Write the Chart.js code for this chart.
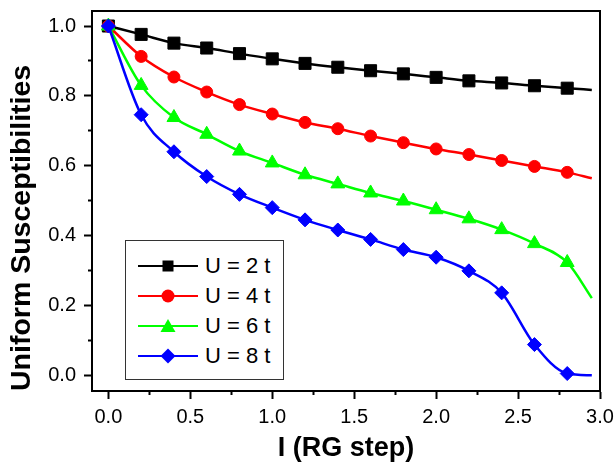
<!DOCTYPE html>
<html><head><meta charset="utf-8">
<script src="https://cdn.jsdelivr.net/npm/chart.js@4.4.1/dist/chart.umd.min.js"></script>
<style>
html,body{margin:0;padding:0;background:#fff;}
#wrap{position:relative;width:616px;height:462px;}
#legend{position:absolute;left:125px;top:240px;width:159px;height:140px;border:1.5px solid #333;box-sizing:border-box;background:#fff;padding-top:10px;font-family:"Liberation Sans",Arial,sans-serif;font-size:22px;color:#000;}
.row{height:30px;display:flex;align-items:center;}
.row svg{margin-left:12px;flex:none;}
.row span{margin-left:7px;white-space:pre;}
</style></head><body>
<div id="wrap"><canvas id="c" width="616" height="462"></canvas><div id="legend"></div></div>
<script>
// ---- data ----
const steps = [0, 0.2, 0.4, 0.6, 0.8, 1.0, 1.2, 1.4, 1.6, 1.8, 2.0, 2.2, 2.4, 2.6, 2.8, 2.95];
const seriesLabels = ['U = 2 t', 'U = 4 t', 'U = 6 t', 'U = 8 t'];
const u2 = [1.000, 0.976, 0.951, 0.937, 0.921, 0.906, 0.893, 0.882, 0.872, 0.863, 0.853, 0.843, 0.837, 0.829, 0.822, 0.817];
const u4 = [1.000, 0.913, 0.854, 0.811, 0.775, 0.748, 0.724, 0.706, 0.685, 0.666, 0.648, 0.632, 0.615, 0.598, 0.581, 0.564];
const u6 = [1.000, 0.830, 0.738, 0.690, 0.642, 0.608, 0.574, 0.548, 0.522, 0.499, 0.474, 0.448, 0.417, 0.377, 0.323, 0.221];
const u8 = [1.000, 0.746, 0.640, 0.569, 0.518, 0.480, 0.445, 0.416, 0.389, 0.360, 0.338, 0.299, 0.236, 0.088, 0.005, 0.000];
const xMajorTicks = [0, 0.5, 1.0, 1.5, 2.0, 2.5, 3.0];
const xMinorTicks = [0.25, 0.75, 1.25, 1.75, 2.25, 2.75];
const yMajorTicks = [0, 0.2, 0.4, 0.6, 0.8, 1.0];
const yMinorTicks = [0.1, 0.3, 0.5, 0.7, 0.9];
const xTitle = 'I (RG step)';
const yTitle = 'Uniform Susceptibilities';

// ---- styles ----
const FONT = '"Liberation Sans", Arial, sans-serif';
const colors = ['#000000', '#ff0000', '#00ff00', '#0000ff'];
const shapes = ['rect', 'circle', 'triangle', 'rectRot'];
const radii = [8.5, 6, 8, 7];
const values = [u2, u4, u6, u8];

const datasets = values.map((vals, k) => ({
  label: seriesLabels[k],
  data: steps.map((s, i) => ({x: s, y: vals[i]})),
  borderColor: colors[k],
  backgroundColor: colors[k],
  borderWidth: 2.5,
  pointStyle: shapes[k],
  pointRadius: steps.map((s, i) => i === steps.length - 1 ? 0 : radii[k]),
  pointBorderWidth: 1,
  pointBorderColor: colors[k],
  pointBackgroundColor: colors[k],
  cubicInterpolationMode: 'monotone',
  fill: false
})).reverse();

const framePlugin = {
  id: 'frame',
  afterDraw(chart) {
    const {ctx, chartArea: a} = chart;
    ctx.save();
    ctx.strokeStyle = '#000';
    ctx.lineWidth = 2;
    ctx.strokeRect(a.left, a.top, a.right - a.left, a.bottom - a.top);
    ctx.restore();
  }
};

const setTicks = arr => s => { s.ticks = arr.map(v => ({value: v})); };
const fitV = w => s => { s.width = w; s.paddingTop = 0; s.paddingBottom = 0; };
const fitH = h => s => { s.height = h; s.paddingLeft = 0; s.paddingRight = 0; };

new Chart(document.getElementById('c'), {
  type: 'line',
  data: {datasets},
  plugins: [framePlugin],
  options: {
    responsive: false,
    animation: false,
    layout: {padding: {left: 0, top: 11, right: 16, bottom: 0}},
    plugins: {legend: {display: false}, tooltip: {enabled: false}},
    scales: {
      x: {
        type: 'linear', position: 'bottom', min: -0.1, max: 3.0, weight: 10,
        afterBuildTicks: setTicks(xMajorTicks),
        afterFit: fitH(71),
        ticks: {callback: v => Number(v).toFixed(1), font: {family: FONT, size: 20, lineHeight: 1}, color: '#000', padding: 8, maxRotation: 0, autoSkip: false},
        grid: {drawOnChartArea: false, tickLength: 8, tickWidth: 2, tickColor: '#000'},
        border: {display: true, color: '#000', width: 2},
        title: {display: true, text: xTitle, color: '#000', font: {family: FONT, size: 27, weight: 'bold', lineHeight: 1}, padding: {top: 0, bottom: 0}}
      },
      xMinor: {
        type: 'linear', position: 'bottom', min: -0.1, max: 3.0, weight: 0,
        afterBuildTicks: setTicks(xMinorTicks),
        afterFit: fitH(0),
        ticks: {display: false},
        grid: {drawOnChartArea: false, tickLength: 4, tickWidth: 2, tickColor: '#000'},
        border: {display: false}
      },
      y: {
        type: 'linear', position: 'left', min: -0.045, max: 1.043, weight: 10,
        afterBuildTicks: setTicks(yMajorTicks),
        afterFit: fitV(92),
        ticks: {callback: v => Number(v).toFixed(1), font: {family: FONT, size: 20, lineHeight: 1}, color: '#000', padding: 8, autoSkip: false},
        grid: {drawOnChartArea: false, tickLength: 8, tickWidth: 2, tickColor: '#000'},
        border: {display: true, color: '#000', width: 2},
        title: {display: true, text: yTitle, align: 'start', color: '#000', font: {family: FONT, size: 28.5, weight: 'bold', lineHeight: 1}, padding: {top: 8, bottom: 0}}
      },
      yMinor: {
        type: 'linear', position: 'left', min: -0.045, max: 1.043, weight: 0,
        afterBuildTicks: setTicks(yMinorTicks),
        afterFit: fitV(0),
        ticks: {display: false},
        grid: {drawOnChartArea: false, tickLength: 4, tickWidth: 2, tickColor: '#000'},
        border: {display: false}
      }
    }
  }
});

// ---- legend (HTML, Origin style: line - marker - line) ----
function markerSvg(shape, color) {
  const cx = 30, cy = 15;
  let m = '';
  if (shape === 'rect') m = `<rect x="${cx-5.5}" y="${cy-5.5}" width="11" height="11" fill="${color}"/>`;
  else if (shape === 'circle') m = `<circle cx="${cx}" cy="${cy}" r="6.5" fill="${color}"/>`;
  else if (shape === 'triangle') m = `<polygon points="${cx},${cy-7} ${cx-7.5},${cy+6} ${cx+7.5},${cy+6}" fill="${color}"/>`;
  else m = `<polygon points="${cx},${cy-7.5} ${cx+7.5},${cy} ${cx},${cy+7.5} ${cx-7.5},${cy}" fill="${color}"/>`;
  return `<svg width="60" height="30" viewBox="0 0 60 30"><line x1="0" y1="${cy}" x2="60" y2="${cy}" stroke="${color}" stroke-width="2"/>${m}</svg>`;
}
const leg = document.getElementById('legend');
seriesLabels.forEach((lab, k) => {
  const row = document.createElement('div');
  row.className = 'row';
  row.innerHTML = markerSvg(shapes[k], colors[k]) + `<span>${lab}</span>`;
  leg.appendChild(row);
});
</script>
</body></html>
